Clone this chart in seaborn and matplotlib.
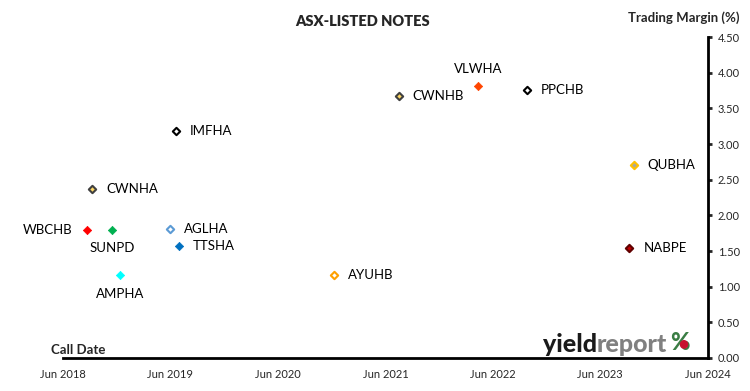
import numpy as np
import pandas as pd
import matplotlib
matplotlib.use("Agg")
import matplotlib.pyplot as plt
import matplotlib.dates as mdates
import seaborn as sns

# ---- data ----
names = ["WBCHB", "SUNPD", "CWNHA", "AMPHA", "AGLHA", "TTSHA", "IMFHA",
         "AYUHB", "CWNHB", "VLWHA", "PPCHB", "QUBHA", "NABPE"]
call_dates = ["2018-08-20", "2018-11-15", "2018-09-08", "2018-12-12", "2019-05-30",
              "2019-06-30", "2019-06-20", "2020-12-08", "2021-07-16", "2022-04-11",
              "2022-09-26", "2023-09-22", "2023-09-08"]
margins = [1.80, 1.80, 2.37, 1.16, 1.81, 1.57, 3.18, 1.16, 3.67, 3.81, 3.76, 2.70, 1.54]

face_cols = ["#ff0000", "#00b050", "#ffd966", "#00ffff", "white", "#0070c0", "white",
             "white", "#ffd966", "#ff4500", "white", "#a6a6a6", "#c00000"]
edge_cols = ["#ff0000", "#00b050", "#404040", "#00ffff", "#5b9bd5", "#0070c0", "black",
             "#ffa000", "#404040", "#ff4500", "black", "#ffc000", "#600000"]
label_pos = ["left", "below", "right", "below", "right", "right", "right",
             "right", "right", "above", "right", "right", "right"]

df = pd.DataFrame({"name": names, "date": pd.to_datetime(call_dates), "margin": margins})

sns.set_style("white")
plt.rcParams["font.family"] = ["Lato", "DejaVu Sans"]

fig = plt.figure(figsize=(7.5, 3.91), dpi=100)
ax = fig.add_axes([0.084, 0.0844, 0.86, 0.8206])

for i, row in df.iterrows():
    hollow = face_cols[i] == "white" or edge_cols[i] != face_cols[i]
    sns.scatterplot(x=[row["date"]], y=[row["margin"]], ax=ax, marker="D",
                    s=18 if not hollow else 14, color=face_cols[i],
                    edgecolor=edge_cols[i], linewidth=1.5 if hollow else 0.5,
                    zorder=3, legend=False)
    pos = label_pos[i]
    if pos == "right":
        off, ha, va = (10, 0), "left", "center"
    elif pos == "left":
        off, ha, va = (-10, 0), "right", "center"
    elif pos == "below":
        off, ha, va = (0, -9), "center", "top"
    else:
        off, ha, va = (0, 8), "center", "bottom"
    ax.annotate(row["name"], (row["date"], row["margin"]), xytext=off,
                textcoords="offset points", ha=ha, va=va, fontsize=9.5, color="black")

ax.set_xlim(pd.Timestamp("2018-06-01"), pd.Timestamp("2024-06-01"))
ax.set_ylim(0, 4.5)
ax.xaxis.set_major_locator(mdates.MonthLocator(bymonth=6))
ax.xaxis.set_major_formatter(mdates.DateFormatter("%b %Y"))
ax.set_yticks(np.arange(0, 4.51, 0.5))
ax.yaxis.set_major_formatter(matplotlib.ticker.FormatStrFormatter("%.2f"))
ax.yaxis.tick_right()

for side in ["top", "left"]:
    ax.spines[side].set_visible(False)
for side in ["bottom", "right"]:
    ax.spines[side].set_linewidth(2)
    ax.spines[side].set_color("black")
ax.tick_params(axis="x", direction="in", length=4, width=2, labelsize=8, pad=8)
ax.tick_params(axis="y", direction="out", length=3, width=2, labelsize=8, pad=4)
ax.set_xlabel("")
ax.set_ylabel("")

fig.text(0.483, 0.945, "ASX-LISTED NOTES", ha="center", va="center",
         fontsize=10.5, fontweight="heavy")
fig.text(0.911, 0.955, "Trading Margin (%)", ha="center", va="center",
         fontsize=9.5, fontweight="bold")
fig.text(0.068, 0.106, "Call Date", ha="left", va="center",
         fontsize=9.5, fontweight="bold")

# logo
t1 = fig.text(0.724, 0.12, "yield", ha="left", va="center", fontsize=18,
              fontweight="black", color="#1a1a1a")
fig.canvas.draw()
bb = t1.get_window_extent().transformed(fig.transFigure.inverted())
t2 = fig.text(bb.x1, 0.12, "report", ha="left", va="center", fontsize=18,
              fontweight="black", color="#808080")
fig.canvas.draw()
bb2 = t2.get_window_extent().transformed(fig.transFigure.inverted())
pct = fig.text(bb2.x1 + 0.004, 0.125, "%", ha="left", va="center", fontsize=17,
               fontweight="black", color="#3a7d44")
fig.canvas.draw()
bb3 = pct.get_window_extent().transformed(fig.transFigure.inverted())
fig.patches.append(matplotlib.patches.Ellipse(
    (bb3.x0 + (bb3.x1 - bb3.x0) * 0.70, bb3.y0 + (bb3.y1 - bb3.y0) * 0.40),
    0.0095, 0.019, color="#c8102e", transform=fig.transFigure, figure=fig, zorder=5))

fig.savefig("out.png", dpi=100)
